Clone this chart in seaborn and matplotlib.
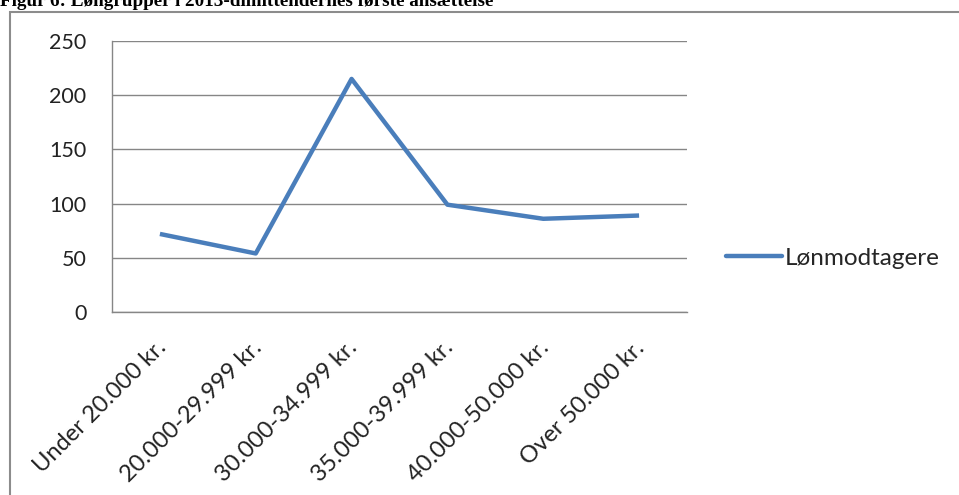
import matplotlib
matplotlib.use("Agg")
import matplotlib.pyplot as plt
import matplotlib.patches as mpatches
import matplotlib.transforms as mtrans
from matplotlib.lines import Line2D
import seaborn as sns
import pandas as pd

categories = ["Under 20.000 kr.", "20.000-29.999 kr.", "30.000-34.999 kr.",
              "35.000-39.999 kr.", "40.000-50.000 kr.", "Over 50.000 kr."]
values = [72, 54, 215, 99, 86, 89]
series_name = "Lønmodtagere"
y_ticks = [0, 50, 100, 150, 200, 250]
title = "Figur 6: Løngrupper i 2013-dimittendernes første ansættelse"

df = pd.DataFrame({"cat": categories, "val": values, "series": series_name})
df["x"] = range(len(categories))

sns.set_style("white")
plt.rcParams["font.family"] = ["Lato", "DejaVu Sans"]

W, H = 959, 495
FS = 15.5
fig = plt.figure(figsize=(W / 100, H / 100), dpi=100)
ax = fig.add_axes([112 / W, 1 - 312 / H, (687 - 112) / W, (312 - 41) / H])

sns.lineplot(data=df, x="x", y="val", hue="series", palette=["#4A7EBB"],
             linewidth=3.2, ax=ax, legend=False, solid_capstyle="butt")

ax.set_xlim(-0.5, len(categories) - 0.5)
ax.set_ylim(0, 250)
ax.set_yticks(y_ticks)
ax.set_yticklabels([str(t) for t in y_ticks], fontsize=FS, color="#222222")
ax.set_xticks([i for i in range(len(categories))])
ax.set_xticklabels(categories, rotation=45, ha="right", va="top",
                   rotation_mode="anchor", fontsize=17, color="#222222")
ax.tick_params(axis="x", length=0, pad=18)
shift = mtrans.ScaledTranslation(-5 / 100, 0, fig.dpi_scale_trans)
for lbl in ax.get_xticklabels():
    lbl.set_transform(lbl.get_transform() + shift)
ax.set_xticks([i - 0.5 for i in range(len(categories) + 1)], minor=True)
ax.tick_params(axis="x", which="minor", length=6.5, width=1, color="#868686", direction="out")
ax.tick_params(axis="y", length=6.5, width=1, color="#868686", direction="out", pad=12)
ax.set_xlabel("")
ax.set_ylabel("")

ax.grid(True, axis="y", color="#868686", linewidth=1)
ax.set_axisbelow(True)
for s in ["top", "right"]:
    ax.spines[s].set_visible(False)
for s in ["left", "bottom"]:
    ax.spines[s].set_color("#868686")
    ax.spines[s].set_linewidth(1)

handle = Line2D([0], [0], color="#4A7EBB", linewidth=3.2)
fig.legend([handle], [series_name], loc="center left",
           bbox_to_anchor=(726 / W, 1 - 258 / H), frameon=False,
           fontsize=17.5, handlelength=2.3, handletextpad=0.1,
           borderaxespad=0, borderpad=0)

rect = mpatches.Rectangle((10 / W, -0.1), 1.2, 1.1 - 12 / H,
                          transform=fig.transFigure, fill=False,
                          edgecolor="#8c8c8c", linewidth=1.5)
fig.patches.append(rect)

fig.text(0.0, 1 - 6.5 / H, title, ha="left", va="baseline",
         fontsize=13.8, fontweight="bold", family="Liberation Serif", color="black")

fig.savefig("out.png", dpi=100)
